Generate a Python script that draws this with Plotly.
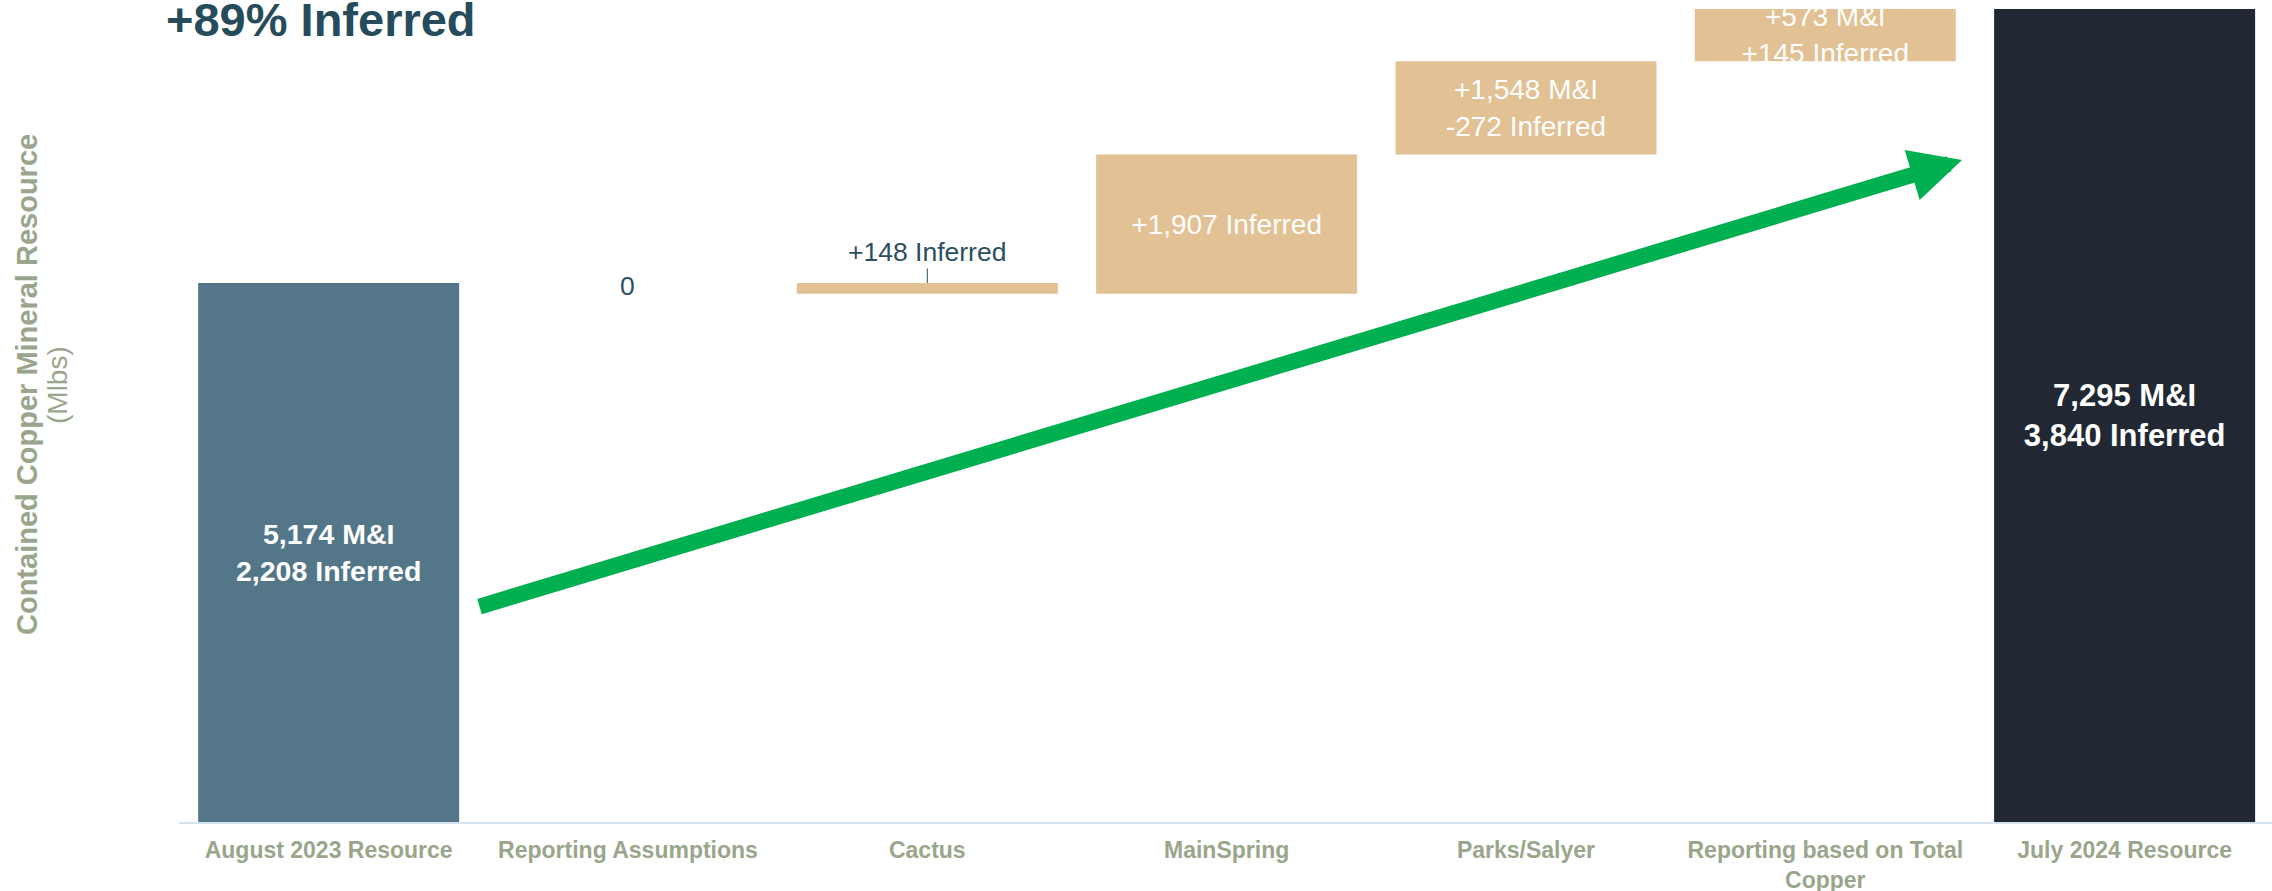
import numpy as np
import plotly.graph_objects as go

# ---- data ----
categories = ["August 2023 Resource", "Reporting Assumptions", "Cactus", "MainSpring",
              "Parks/Salyer", "Reporting based on Total Copper", "July 2024 Resource"]
tick_labels = ["<b>August 2023 Resource</b>", "<b>Reporting Assumptions</b>", "<b>Cactus</b>",
               "<b>MainSpring</b>", "<b>Parks/Salyer</b>",
               "<b>Reporting based on Total</b><br><b>Copper</b>", "<b>July 2024 Resource</b>"]
start_total = 7382          # 5,174 M&I + 2,208 Inferred
changes = [0, -148, 1907, 1276, 718]   # steps as drawn in the chart
end_total = 11135           # 7,295 M&I + 3,840 Inferred
bar_labels = ["<b>5,174 M&I<br>2,208 Inferred</b>", "0", "+148 Inferred", "+1,907 Inferred",
              "+1,548 M&I<br>-272 Inferred", "+573 M&I<br>+145 Inferred",
              "<b>7,295 M&I<br>3,840 Inferred</b>"]
title_text = "<b>+89% Inferred</b>"
ytitle_main = "<b>Contained Copper Mineral Resource</b>"
ytitle_unit = "(Mlbs)"

# ---- derived geometry from the data ----
changes = np.array(changes, dtype=float)
levels = start_total + np.cumsum(changes)
prev = np.concatenate([[start_total], levels[:-1]])
bases = [0.0] + list(np.minimum(prev, levels)) + [0.0]
heights = [start_total] + list(np.abs(changes)) + [end_total]

C_START = "#537789"
C_STEP = "#e2c194"
C_END = "#212833"
C_TEXT = "#2b4f5f"
C_AXIS = "#9aa68c"
FONT = "Liberation Sans, Arial, sans-serif"

colors = [C_START] + [C_STEP] * len(changes) + [C_END]
textpos = ["inside", "none", "none", "inside", "inside", "inside", "inside"]
tsizes = [28.5, 26, 26, 28, 28, 28, 31]

fig = go.Figure()
fig.add_trace(go.Bar(
    x=categories, y=heights, base=bases,
    marker=dict(color=colors, line=dict(width=0)),
    width=0.872,
    text=bar_labels, textposition=textpos,
    insidetextanchor="middle", constraintext="none",
    textfont=dict(family=FONT, size=tsizes, color="white"),
    hoverinfo="skip", showlegend=False,
))

annotations = []
# zero-change label at its level
annotations.append(dict(x=categories[1], y=prev[0], xref="x", yref="y", text=bar_labels[1],
                        showarrow=False, yanchor="middle", yshift=-3,
                        font=dict(family=FONT, size=26.5, color=C_TEXT)))
# Cactus label with leader line
annotations.append(dict(x=categories[2], y=prev[1], xref="x", yref="y", text=bar_labels[2],
                        showarrow=True, arrowhead=0, arrowwidth=1, arrowcolor=C_TEXT,
                        ax=0, ay=-31, standoff=0,
                        font=dict(family=FONT, size=26.5, color=C_TEXT)))

# helpers: page pixel -> paper
L, R, T, B, W, H = 179, 0, 0, 69, 2272, 891
def px(xp):
    return (xp - L) / (W - L - R)
def py(yp):
    return (H - B - yp) / (H - B - T)

# big green trend arrow
annotations.append(dict(x=px(1962), y=py(160), xref="paper", yref="paper", text="",
                        showarrow=True, arrowhead=2, arrowsize=0.65, arrowwidth=16,
                        arrowcolor="#00b050", ax=-1484, ay=447, standoff=0))
# title (partially cut off at top)
annotations.append(dict(x=px(164), y=py(19), xref="paper", yref="paper", text=title_text,
                        showarrow=False, xanchor="left", yanchor="middle",
                        font=dict(family=FONT, size=47, color="#264c5c")))
# y-axis title
annotations.append(dict(x=px(27), y=py(385), xref="paper", yref="paper", text=ytitle_main,
                        showarrow=False, textangle=-90, xanchor="center", yanchor="middle",
                        font=dict(family=FONT, size=29, color=C_AXIS)))
annotations.append(dict(x=px(57), y=py(385), xref="paper", yref="paper", text=ytitle_unit,
                        showarrow=False, textangle=-90, xanchor="center", yanchor="middle",
                        font=dict(family=FONT, size=28, color=C_AXIS)))

fig.update_layout(
    width=W, height=H,
    margin=dict(l=L, r=R, t=T, b=B, pad=0, autoexpand=False),
    paper_bgcolor="white", plot_bgcolor="white",
    annotations=annotations,
    bargap=0.128,
    xaxis=dict(type="category", range=[-0.5, 6.4924], tickmode="array",
               tickvals=categories, ticktext=tick_labels,
               tickfont=dict(family=FONT, size=23, color=C_AXIS),
               showline=True, linecolor="#d5e3ec", linewidth=2, automargin=False,
               ticks="", showgrid=False, zeroline=False, ticklabelstandoff=6),
    yaxis=dict(range=[0, 11257], showticklabels=False, showgrid=False, zeroline=False,
               showline=False, ticks="", automargin=False),
)

fig.write_html("out.html", config={"displayModeBar": False},
               post_script="document.body.style.margin='0';")
